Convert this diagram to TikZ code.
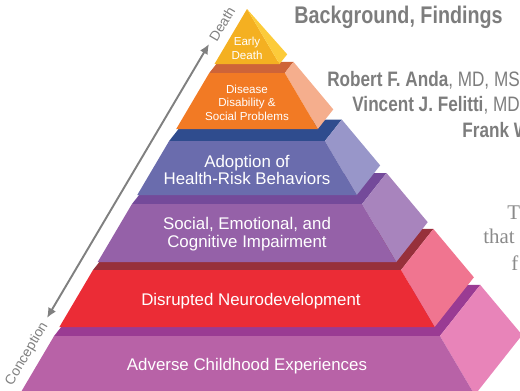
\documentclass[tikz,border=0pt]{standalone}
\usepackage{fontspec}
\setmainfont{Liberation Sans}
\newfontfamily\narrowsans[FakeStretch=0.82]{Liberation Sans}
\newfontfamily\bodyserif{Liberation Serif}
\usetikzlibrary{arrows.meta}
\definecolor{edF}{HTML}{F4B021}
\definecolor{edS}{HTML}{FCCB3A}
\definecolor{disF}{HTML}{F27A24}
\definecolor{disT}{HTML}{CE6438}
\definecolor{disS}{HTML}{F5AE8D}
\definecolor{hrbF}{HTML}{6A6CAD}
\definecolor{hrbT}{HTML}{2F4C8E}
\definecolor{hrbS}{HTML}{9896C9}
\definecolor{secF}{HTML}{9561A8}
\definecolor{secT}{HTML}{744A9A}
\definecolor{secS}{HTML}{A884BD}
\definecolor{neuF}{HTML}{EB2C36}
\definecolor{neuT}{HTML}{97303B}
\definecolor{neuS}{HTML}{F07590}
\definecolor{aceF}{HTML}{B862A7}
\definecolor{aceT}{HTML}{9A3B93}
\definecolor{aceS}{HTML}{E884B9}
\definecolor{axisgray}{HTML}{808080}
\definecolor{titlegray}{HTML}{7D7D7D}
\definecolor{bodygray}{HTML}{8A8A8A}

\begin{document}
\begin{tikzpicture}[x=0.02cm,y=-0.02cm,
  every node/.style={text=white,align=center,inner sep=0pt},
  label/.style={font=\fontsize{9.6}{10.2}\selectfont},
  small/.style={font=\fontsize{6.6}{7.7}\selectfont},
  side/.style={text=axisgray,font=\fontsize{7.9}{8}\selectfont},
  head/.style={text=titlegray,anchor=base west,font=\narrowsans\bfseries\fontsize{11.9}{12}\selectfont},
  body/.style={text=bodygray,anchor=base west,font=\bodyserif\fontsize{11.9}{12}\selectfont},
  >={Latex[length=2mm,width=1.8mm]}]
 \path[use as bounding box,clip] (0,0) rectangle (520,390);

 % layers, bottom one first
 \foreach \yt/\yb/\lay in {336/395/ace,270/327/neu,204/262/sec,141/195/hrb,73/129/dis}{
  \pgfmathsetmacro\ht{0.59*(\yt-9)}
  \pgfmathsetmacro\hb{0.59*(\yb-9)}
  \fill[\lay T] (247-\ht,\yt) -- (247+\ht,\yt) -- ++(0.12*\yt,-0.152*\yt) -- ++(-2*\ht,0) -- cycle;
  \fill[\lay S] (247+\ht,\yt) -- ++(0.12*\yt,-0.152*\yt) -- (247+\hb+0.12*\yb,0.848*\yb) -- (247+\hb,\yb) -- cycle;
  \fill[\lay F] (247-\ht,\yt) -- (247+\ht,\yt) -- (247+\hb,\yb) -- (247-\hb,\yb) -- cycle;
 }
 \fill[edF] (247,9) -- (214.5,64) -- (279.5,64) -- cycle;
 \fill[edS] (247,9) -- (279.5,64) -- (287.2,54.3) -- cycle;

 \node[small] (ed) at (247,48.5) {Early\\Death};
 \node[small] (dis) at (247,102.5) {Disease\\Disability \&\\Social Problems};
 \node[label] (hrb) at (247,170) {Adoption of\\Health-Risk Behaviors};
 \node[label] (sec) at (247,234) {Social, Emotional, and\\Cognitive Impairment};
 \node[label] (neu) at (251,301) {Disrupted Neurodevelopment};
 \node[label] (ace) at (247,366) {Adverse Childhood Experiences};

 \coordinate (lo) at (47,318);
 \coordinate (hi) at (209,44);
 \draw[<->,axisgray,line width=1.1pt] (lo) -- (hi);
 \node[side,rotate=59.4] (death) at (222,24) {Death};
 \node[side,rotate=59.4] (conc) at (27,354) {Conception};

 \node[head,font=\narrowsans\bfseries\fontsize{13.7}{14}\selectfont] (title) at (294,23.3) {Background, Findings};
 \node[head] (anda) at (327,86.7) {Robert F. Anda\mdseries, MD, MS};
 \node[head] (felitti) at (352,111.7) {Vincent J. Felitti\mdseries, MD};
 \node[head] (frank) at (462,137) {Frank W};
 \node[body] (t1) at (507,219.3) {T};
 \node[body] (t2) at (483,243.3) {that};
 \node[body] (t3) at (511,270) {f};
\end{tikzpicture}
\end{document}
